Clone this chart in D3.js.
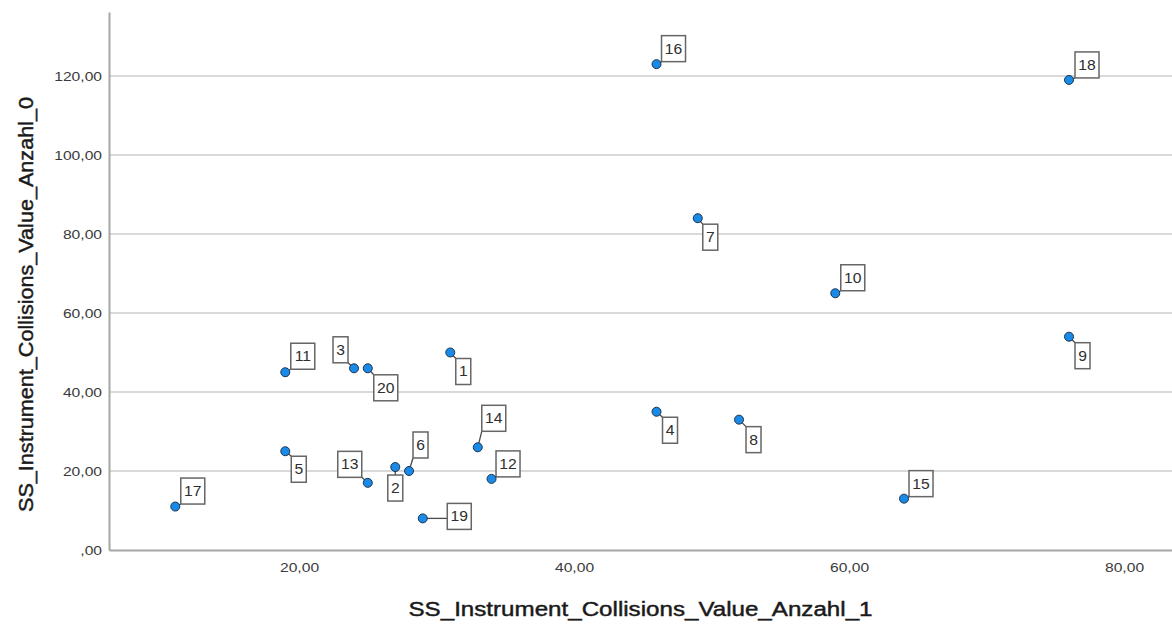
<!DOCTYPE html>
<html>
<head>
<meta charset="utf-8">
<script src="https://cdn.jsdelivr.net/npm/d3@7"></script>
<style>
  html, body { margin: 0; padding: 0; background: #fff; }
  svg { display: block; font-family: "Liberation Sans", Arial, sans-serif; }
</style>
</head>
<body>
<svg id="chart" width="1172" height="625"></svg>
<script>
// ---- data ----
const caseIds = [1, 2, 3, 4, 5, 6, 7, 8, 9, 10, 11, 12, 13, 14, 15, 16, 17, 18, 19, 20];
const anzahl1 = [31, 27, 24, 46, 19, 28, 49, 52, 76, 59, 19, 34, 25, 33, 64, 46, 11, 76, 29, 25];
const anzahl0 = [50, 21, 46, 35, 25, 20, 84, 33, 54, 65, 45, 18, 17, 26, 13, 123, 11, 119, 8, 46];
const xTicks = [20, 40, 60, 80];
const yTicks = [0, 20, 40, 60, 80, 100, 120];
const xTitle = "SS_Instrument_Collisions_Value_Anzahl_1";
const yTitle = "SS_Instrument_Collisions_Value_Anzahl_0";

// ---- layout: label box offsets (centre of box relative to point, px) ----
const labelOffsets = {
  1: [13, 19], 2: [0, 21], 3: [-13.5, -18.5], 4: [13.5, 18.5], 5: [13.5, 18],
  6: [11.5, -26], 7: [12.5, 19], 8: [14.5, 20], 9: [13.5, 19], 10: [17.5, -15.5],
  11: [17.5, -16], 12: [16.5, -15], 13: [-18, -18.5], 14: [16, -29], 15: [17, -15],
  16: [17, -15.5], 17: [17.5, -15.5], 18: [18, -15], 19: [36.5, -2], 20: [18, 19.5]
};

const plotL = 109, plotT = 12, plotR = 1172, plotB = 550;
const svg = d3.select("#chart");

const x = d3.scaleLinear().domain([6.18, 83.49]).range([plotL, plotR]);
const y = d3.scaleLinear().domain([0, 136.2]).range([plotB, plotT]);

const fmt = v => {
  const s = d3.format(".2f")(v).replace(".", ",");
  return s.startsWith("0,") ? s.slice(1) : s;
};

// gridlines
svg.append("g").selectAll("line").data(yTicks.filter(d => d > 0)).join("line")
  .attr("x1", plotL).attr("x2", plotR)
  .attr("y1", d => y(d)).attr("y2", d => y(d))
  .attr("stroke", "#d9d9d9").attr("stroke-width", 2);

// axes
const yAxis = svg.append("g").attr("transform", `translate(${plotL},0)`)
  .call(d3.axisLeft(y).tickValues(yTicks).tickFormat(fmt).tickSize(0).tickPadding(6));
const xAxis = svg.append("g").attr("transform", `translate(0,${plotB})`)
  .call(d3.axisBottom(x).tickValues(xTicks).tickFormat(fmt).tickSize(0).tickPadding(12));

[yAxis, xAxis].forEach(g => {
  g.select(".domain").attr("stroke", "#a6a6a6").attr("stroke-width", 2);
  g.selectAll(".tick line").remove();
  g.selectAll(".tick text")
    .attr("fill", "#3a3a3a")
    .style("font-size", "13.5px")
    .style("font-family", "'Liberation Sans', Arial, sans-serif");
});
yAxis.selectAll(".tick text").attr("transform", "scale(1.16,1)");
xAxis.selectAll(".tick text").attr("transform", "scale(1.16,1)");

// titles
svg.append("text")
  .attr("x", (plotL + plotR) / 2).attr("y", 616)
  .attr("text-anchor", "middle")
  .attr("fill", "#1a1a1a").attr("stroke", "#1a1a1a").attr("stroke-width", 0.45)
  .style("font-size", "20px")
  .attr("textLength", 464).attr("lengthAdjust", "spacingAndGlyphs")
  .text(xTitle);

svg.append("text")
  .attr("transform", `translate(33,304.5) rotate(-90)`)
  .attr("text-anchor", "middle")
  .attr("fill", "#1a1a1a").attr("stroke", "#1a1a1a").attr("stroke-width", 0.45)
  .style("font-size", "21px")
  .attr("textLength", 415).attr("lengthAdjust", "spacingAndGlyphs")
  .text(yTitle);

// points data
const pts = caseIds.map((id, i) => ({ id, vx: anzahl1[i], vy: anzahl0[i] }));

const labelG = svg.append("g");
pts.forEach(p => {
  const px = x(p.vx), py = y(p.vy);
  const off = labelOffsets[p.id];
  const cx = px + off[0], cy = py + off[1];
  const str = String(p.id);
  const bw = str.length === 1 ? 15 : 24, bh = 26;
  const bx = cx - bw / 2, by = cy - bh / 2;
  const nx = Math.max(bx, Math.min(px, bx + bw));
  const ny = Math.max(by, Math.min(py, by + bh));
  labelG.append("line")
    .attr("x1", px).attr("y1", py).attr("x2", nx).attr("y2", ny)
    .attr("stroke", "#4a4a4a").attr("stroke-width", 1.3);
  labelG.append("rect")
    .attr("x", bx).attr("y", by).attr("width", bw).attr("height", bh)
    .attr("fill", "#fff").attr("stroke", "#666").attr("stroke-width", 1.5);
  labelG.append("text")
    .attr("transform", `translate(${cx},${cy + 5}) scale(1.12,1)`)
    .attr("text-anchor", "middle")
    .attr("fill", "#2e2e2e")
    .style("font-size", "14px")
    .text(str);
});

svg.append("g").selectAll("circle").data(pts).join("circle")
  .attr("cx", d => x(d.vx)).attr("cy", d => y(d.vy))
  .attr("r", 4.5)
  .attr("fill", "#1a8ae8")
  .attr("stroke", "#1c3550").attr("stroke-width", 1);
</script>
</body>
</html>
